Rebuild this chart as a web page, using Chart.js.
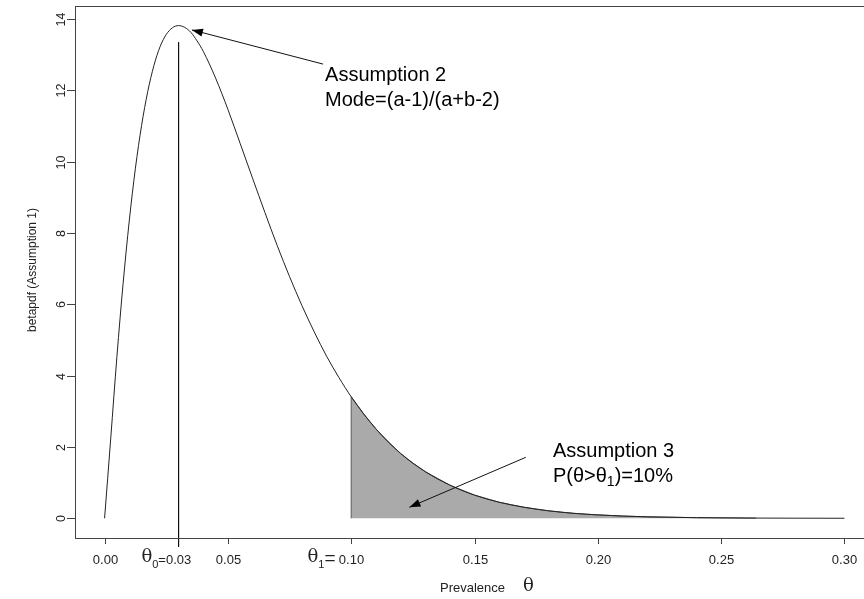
<!DOCTYPE html>
<html>
<head>
<meta charset="utf-8">
<script src="https://cdn.jsdelivr.net/npm/chart.js@4.4.1/dist/chart.umd.min.js"></script>
<style>
html,body{margin:0;padding:0;background:#fff;overflow:hidden}
#wrap{position:absolute;left:0;top:0;width:880px;height:599px}
</style>
</head>
<body>
<div id="wrap"><canvas id="c"></canvas></div>
<script>
// beta pdf
const THETA=[0,0.0025,0.005,0.0075,0.01,0.0125,0.015,0.0175,0.02,0.0225,0.025,0.0275,0.03,0.0325,0.035,0.0375,0.04,0.045,0.05,0.055,0.06,0.065,0.07,0.075,0.08,0.085,0.09,0.095,0.10,0.11,0.12,0.13,0.14,0.15,0.16,0.17,0.18,0.19,0.20,0.21,0.22,0.24,0.26,0.28,0.30];
const PDF=[0,2.25,4.54,6.58,8.34,9.82,11.02,11.97,12.70,13.23,13.57,13.76,13.82,13.77,13.63,13.39,13.10,12.35,11.47,10.51,9.54,8.58,7.65,6.78,5.97,5.23,4.55,3.95,3.41,2.51,1.82,1.31,0.93,0.65,0.45,0.31,0.21,0.14,0.095,0.063,0.041,0.017,0.007,0.003,0.001];
// shaded tail (theta > theta1)
const TAIL_X=[0.10,0.10,0.105,0.11,0.115,0.12,0.125,0.13,0.14,0.15,0.16,0.17,0.18,0.19,0.20,0.21,0.22,0.24,0.264,0.264];
const TAIL_Y=[0,3.41,2.93,2.51,2.15,1.82,1.55,1.31,0.93,0.65,0.45,0.31,0.21,0.14,0.095,0.063,0.041,0.017,0.006,0];
const MODE_X=[0.03,0.03], MODE_Y=[13.35,-0.80];
const X_TICKS=[0,0.05,0.10,0.15,0.20,0.25,0.30];
const X_LABELS=['0.00','0.05','0.10','0.15','0.20','0.25','0.30'];
const Y_TICKS=[0,2,4,6,8,10,12,14];
// arrows: [tailX,tailY,headX,headY]
const ARROWS=[[0.0886,12.74,0.0354,13.70],[0.1708,1.71,0.1236,0.31]];

const pts=(xs,ys)=>xs.map((x,i)=>({x,y:ys[i]}));
const SANS='"Liberation Sans", Arial, sans-serif';
const SERIF='"DejaVu Serif", "Liberation Serif", serif';

function txt(ctx,s,x,y,font,align){ctx.font=font;ctx.textAlign=align||'left';ctx.fillText(s,x,y);return ctx.measureText(s).width;}

const decor={id:'decor',afterDraw(ch){
  const ctx=ch.ctx,a=ch.chartArea,xs=ch.scales.x,ys=ch.scales.y;
  ctx.save();
  ctx.strokeStyle='#444';ctx.lineWidth=1;
  ctx.strokeRect(Math.round(a.left)+.5,Math.round(a.top)+.5,Math.round(a.right-a.left),Math.round(a.bottom-a.top));
  ctx.fillStyle='#222';ctx.textBaseline='middle';
  // x ticks
  X_TICKS.forEach((v,i)=>{
    const px=Math.round(xs.getPixelForValue(v))+.5;
    ctx.beginPath();ctx.moveTo(px,a.bottom);ctx.lineTo(px,a.bottom+6);ctx.stroke();
    txt(ctx,X_LABELS[i],px,560,'13px '+SANS,'center');
  });
  // theta0 = 0.03 label
  let p0=xs.getPixelForValue(0.03);
  let w=txt(ctx,'0.03',p0,560,'13px '+SANS,'center');
  let lx=p0-w/2;
  ctx.font='13px '+SANS;lx-=ctx.measureText('=').width;txt(ctx,'=',lx,560,'13px '+SANS);
  ctx.font='11px '+SANS;lx-=ctx.measureText('0').width;txt(ctx,'0',lx,565,'11px '+SANS);
  ctx.font='18px '+SERIF;lx-=ctx.measureText('θ').width;txt(ctx,'θ',lx,557,'18px '+SERIF);
  // theta1 = label left of 0.10
  let p1=xs.getPixelForValue(0.10);
  ctx.font='13px '+SANS;lx=p1-ctx.measureText('0.10').width/2-3;
  ctx.font='19px '+SANS;lx-=ctx.measureText('=').width;txt(ctx,'=',lx,559,'19px '+SANS);
  ctx.font='11px '+SANS;lx-=ctx.measureText('1').width;txt(ctx,'1',lx,565,'11px '+SANS);
  ctx.font='18px '+SERIF;lx-=ctx.measureText('θ').width;txt(ctx,'θ',lx,557,'18px '+SERIF);
  // y ticks
  Y_TICKS.forEach(v=>{
    const py=Math.round(ys.getPixelForValue(v))+.5;
    ctx.beginPath();ctx.moveTo(a.left,py);ctx.lineTo(a.left-8,py);ctx.stroke();
    ctx.save();ctx.translate(62,py);ctx.rotate(-Math.PI/2);txt(ctx,String(v),0,0,'12.5px '+SANS,'center');ctx.restore();
  });
  // axis titles
  ctx.save();ctx.translate(33,270);ctx.rotate(-Math.PI/2);txt(ctx,'betapdf (Assumption 1)',0,0,'12px '+SANS,'center');ctx.restore();
  txt(ctx,'Prevalence',440,588,'13px '+SANS);
  txt(ctx,'θ',523,586,'18px '+SERIF);
  // annotations
  ctx.fillStyle='#000';
  const ax=xs.getPixelForValue(0.0894);
  txt(ctx,'Assumption 2',ax,ys.getPixelForValue(12.41),'20px '+SANS);
  txt(ctx,'Mode=(a-1)/(a+b-2)',ax,ys.getPixelForValue(11.71),'20px '+SANS);
  const bx=xs.getPixelForValue(0.1818),by=ys.getPixelForValue(1.16);
  txt(ctx,'Assumption 3',bx,ys.getPixelForValue(1.86),'20px '+SANS);
  lx=bx;
  lx+=txt(ctx,'P(θ>θ',lx,by,'20px '+SANS);
  lx+=txt(ctx,'1',lx,by+5,'14px '+SANS);
  txt(ctx,')=10%',lx,by,'20px '+SANS);
  // arrows
  ctx.strokeStyle='#111';ctx.fillStyle='#000';
  ARROWS.forEach(([tx,ty,hx,hy])=>{
    const x0=xs.getPixelForValue(tx),y0=ys.getPixelForValue(ty),x1=xs.getPixelForValue(hx),y1=ys.getPixelForValue(hy);
    const ang=Math.atan2(y1-y0,x1-x0),L=11,H=4;
    ctx.beginPath();ctx.moveTo(x0,y0);ctx.lineTo(x1,y1);ctx.stroke();
    ctx.beginPath();ctx.moveTo(x1,y1);
    ctx.lineTo(x1-L*Math.cos(ang)+H*Math.sin(ang),y1-L*Math.sin(ang)-H*Math.cos(ang));
    ctx.lineTo(x1-L*Math.cos(ang)-H*Math.sin(ang),y1-L*Math.sin(ang)+H*Math.cos(ang));
    ctx.closePath();ctx.fill();
  });
  ctx.restore();
}};

new Chart(document.getElementById('c'),{type:'line',
  data:{datasets:[
    {data:pts(THETA,PDF),borderColor:'#222',borderWidth:1,pointRadius:0,fill:false,cubicInterpolationMode:'monotone',order:0},
    {data:pts(TAIL_X,TAIL_Y),borderColor:'#555',borderWidth:1,backgroundColor:'#aaaaaa',pointRadius:0,fill:'origin',tension:0,order:2},
    {data:pts(MODE_X,MODE_Y),borderColor:'#111',borderWidth:1,pointRadius:0,fill:false,clip:false,order:1},
  ]},
  options:{responsive:true,maintainAspectRatio:false,animation:false,
    layout:{padding:{left:75,right:6,top:6,bottom:61}},
    plugins:{legend:{display:false},tooltip:{enabled:false}},
    scales:{
      x:{type:'linear',min:-0.012,max:0.312,ticks:{display:false},grid:{display:false},border:{display:false},afterFit:s=>{s.height=0;}},
      y:{type:'linear',min:-0.553,max:14.37,ticks:{display:false},grid:{display:false},border:{display:false},afterFit:s=>{s.width=0;}}
    }},
  plugins:[decor]
});
</script>
</body>
</html>
